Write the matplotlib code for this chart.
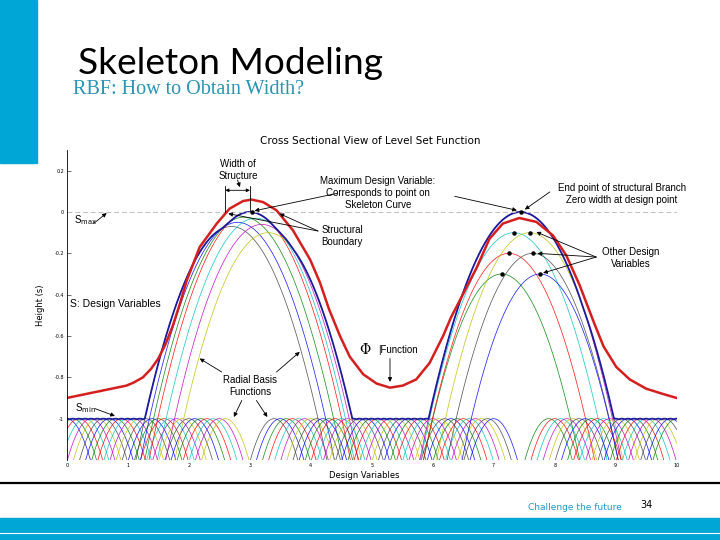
import numpy as np
import matplotlib
matplotlib.use('Agg')
import matplotlib.pyplot as plt
from matplotlib.patches import Rectangle
from matplotlib.lines import Line2D

# RBF centres at S_min (= -1)
smin_left = [0.0, 0.1, 0.2, 0.3, 0.4, 0.5, 0.6, 0.7, 0.8, 0.9, 1.0, 1.1, 1.2, 1.3,
             1.4, 1.5, 1.6, 1.7, 1.8, 1.9, 2.0, 2.1, 2.2, 2.3, 2.4, 2.5, 2.6]
smin_mid = [3.4, 3.5, 3.6, 3.7, 3.8, 3.9, 4.0, 4.1, 4.2, 4.3, 4.4, 4.5, 4.6, 4.7,
            4.8, 4.9, 5.0, 5.1, 5.2, 5.3, 5.4, 5.5, 5.6, 5.7, 5.8, 5.9, 6.0, 6.1,
            6.2, 6.3, 6.4, 6.5, 6.6, 6.7, 6.8, 6.9, 7.0]
smin_right = [7.9, 8.0, 8.1, 8.2, 8.3, 8.4, 8.5, 8.6, 8.7, 8.8, 8.9, 9.0, 9.1,
              9.2, 9.3, 9.4, 9.5, 9.6, 9.7, 9.8, 9.9, 10.0]
s_min = -1.0

# raised design variables around the two skeleton points
left_c = [2.7, 2.8, 2.9, 3.0, 3.1, 3.2, 3.3]
left_s = [-0.07, -0.05, -0.025, 0.0, -0.03, -0.06, -0.1]
right_c = [7.13, 7.25, 7.33, 7.44, 7.59, 7.64, 7.76]
right_s = [-0.3, -0.2, -0.1, 0.0, -0.1, -0.2, -0.3]

# level set function (Phi)
phi_x = [0.0, 0.49, 0.98, 1.1, 1.25, 1.38, 1.5, 1.62, 1.74, 1.86, 1.97, 2.18,
         2.46, 2.67, 2.89, 3.03, 3.22, 3.44, 3.71, 3.99, 4.15, 4.3, 4.48, 4.64,
         4.86, 5.08, 5.3, 5.51, 5.73, 5.95, 6.17, 6.3, 6.44, 6.72, 6.93, 7.15,
         7.42, 7.7, 7.97, 8.19, 8.41, 8.52, 8.65, 8.8, 9.01, 9.23, 9.5, 9.77, 10.0]
phi_y = [-0.9, -0.87, -0.84, -0.825, -0.8, -0.76, -0.71, -0.64, -0.55, -0.44,
         -0.33, -0.17, -0.056, 0.016, 0.053, 0.06, 0.048, 0.008, -0.089, -0.23,
         -0.34, -0.47, -0.6, -0.7, -0.785, -0.83, -0.85, -0.84, -0.81, -0.73,
         -0.6, -0.51, -0.43, -0.27, -0.13, -0.056, -0.029, -0.048, -0.113, -0.21,
         -0.355, -0.44, -0.54, -0.65, -0.75, -0.81, -0.855, -0.88, -0.9]

yticks = [-1, -0.8, -0.6, -0.4, -0.2, 0, 0.2]
ytick_labels = ['-1', '-0.8', '-0.6', '-0.4', '-0.2', '0', '0.2']
xticks = [0, 1, 2, 3, 4, 5, 6, 7, 8, 9, 10]


def rbf(x, c, s):
    # parabolic basis function, narrower for lower design variables
    return s - 0.66 * (x - c) ** 2 / (s + 1.5)


cyan = '#00A6D6'
line_colors = ['#0000ff', '#008000', '#ff0000', '#00bfbf', '#bf00bf', '#bfbf00', '#404040']

fig = plt.figure(figsize=(7.2, 5.4), dpi=100)

# slide decoration
fig.patches.append(Rectangle((0, 1 - 163 / 540), 37 / 720, 163 / 540,
                             transform=fig.transFigure, color=cyan, zorder=0))
fig.patches.append(Rectangle((0, 0), 1, 22 / 540, transform=fig.transFigure,
                             color=cyan, zorder=0))
fig.lines.append(Line2D([0, 1], [7.5 / 540, 7.5 / 540], transform=fig.transFigure,
                        color='white', lw=0.8))
fig.lines.append(Line2D([0, 1], [1 - 483 / 540, 1 - 483 / 540], transform=fig.transFigure,
                        color='black', lw=1.6))
fig.text(78 / 720, 1 - 63 / 540, 'Skeleton Modeling', fontsize=26.7, family='Lato',
         va='center', ha='left')
fig.text(73 / 720, 1 - 90 / 540, 'RBF: How to Obtain Width?', fontsize=14.5,
         family='Liberation Serif', color='#2a93b3', va='center', ha='left')
fig.text(575 / 720, 1 - 508 / 540, 'Challenge the future', fontsize=6.5,
         color='#1a9cc4', va='center', ha='center')
fig.text(646 / 720, 1 - 505 / 540, '34', fontsize=7, va='center', ha='center')

ax = fig.add_axes([66.7 / 720, 1 - 460 / 540, 610 / 720, 310 / 540])
ax.set_xlim(0, 10)
ax.set_ylim(-1.2, 0.3)

x = np.linspace(0, 10, 1201)
centres = smin_left + smin_mid + smin_right + left_c + right_c
heights = [s_min] * (len(smin_left) + len(smin_mid) + len(smin_right)) + left_s + right_s
pairs = sorted(zip(centres, heights))
curves = []
for i, (c, s) in enumerate(pairs):
    y = rbf(x, c, s)
    curves.append(y)
    ax.plot(x, y, color=line_colors[i % 7], lw=0.55, alpha=0.85)

ax.plot(x, np.max(curves, axis=0), color='#1c1c9c', lw=1.3)
ax.plot([0, 10], [0, 0], color='#c0c0c0', lw=0.7, dashes=(5, 3))
ax.plot(phi_x, phi_y, color='#d41f1f', lw=1.8, solid_joinstyle='round')

dots_x = [3.03] + right_c
dots_y = [0.0] + right_s
ax.plot(dots_x, dots_y, 'o', color='black', ms=2.2, zorder=5)

ax.spines['top'].set_visible(False)
ax.spines['right'].set_visible(False)
ax.spines['bottom'].set_visible(False)
ax.spines['left'].set_linewidth(0.6)
ax.set_yticks(yticks)
ax.set_yticklabels(ytick_labels)
ax.set_xticks(xticks)
ax.tick_params(direction='in', labelsize=3.5, length=3, width=0.4, pad=2)
ax.tick_params(axis='x', length=0)
ax.set_ylabel('Height (s)', fontsize=6)
ax.yaxis.set_label_coords(-0.035, 0.5)
ax.set_xlabel('Design Variables', fontsize=6)
ax.xaxis.set_label_coords(0.488, -0.035)

ax.text(4.97, 0.342, 'Cross Sectional View of Level Set Function', fontsize=7.5,
        ha='center', va='center', clip_on=False)

txt = dict(fontsize=7, family='Liberation Sans', linespacing=1.25)
arr = dict(arrowstyle='-|>', color='black', lw=0.6, mutation_scale=6, shrinkA=0, shrinkB=0)

# width of structure
ax.text(2.81, 0.204, 'Width of\nStructure', ha='center', va='center', **txt)
ax.annotate('', xy=(2.6, 0.105), xytext=(3.003, 0.105),
            arrowprops=dict(arrowstyle='<|-|>', color='black', lw=0.6,
                            mutation_scale=5, shrinkA=0, shrinkB=0))
ax.plot([2.6, 2.6], [0.125, 0.0], color='black', lw=0.6)
ax.plot([3.003, 3.003], [0.125, 0.01], color='black', lw=0.6)
ax.annotate('', xy=(2.84, 0.12), xytext=(2.8, 0.155), arrowprops=arr)

# maximum design variable
ax.text(5.1, 0.09, 'Maximum Design Variable:\nCorresponds to point on\nSkeleton Curve',
        ha='center', va='center', **txt)
ax.annotate('', xy=(3.08, 0.006), xytext=(4.43, 0.09), arrowprops=arr)
ax.annotate('', xy=(7.38, 0.008), xytext=(6.36, 0.076), arrowprops=arr)

# end point
ax.text(9.1, 0.086, 'End point of structural Branch\nZero width at design point',
        ha='center', va='center', **txt)
ax.annotate('', xy=(7.51, 0.012), xytext=(7.92, 0.097), arrowprops=arr)

# structural boundary
ax.text(4.18, -0.114, 'Structural\nBoundary', ha='left', va='center', **txt)
ax.annotate('', xy=(2.65, -0.008), xytext=(4.12, -0.092), arrowprops=arr)
ax.annotate('', xy=(3.49, -0.008), xytext=(4.12, -0.092), arrowprops=arr)

# S max / S min / S
ax.text(0.12, -0.04, r'S$_{\rm max}$', ha='left', va='center', **txt)
ax.annotate('', xy=(0.655, -0.005), xytext=(0.44, -0.056), arrowprops=arr)
ax.text(0.13, -0.951, r'S$_{\rm min}$', ha='left', va='center', **txt)
ax.annotate('', xy=(0.79, -0.987), xytext=(0.46, -0.951), arrowprops=arr)
ax.text(0.055, -0.447, 'S: Design Variables', ha='left', va='center', fontsize=7.5,
        family='Liberation Sans')

# radial basis functions
ax.text(3.005, -0.843, 'Radial Basis\nFunctions', ha='center', va='center', **txt)
ax.annotate('', xy=(2.18, -0.709), xytext=(2.54, -0.774), arrowprops=arr)
ax.annotate('', xy=(3.82, -0.677), xytext=(3.44, -0.774), arrowprops=arr)
ax.annotate('', xy=(2.74, -0.992), xytext=(2.87, -0.912), arrowprops=arr)
ax.annotate('', xy=(3.29, -0.992), xytext=(3.11, -0.912), arrowprops=arr)

# phi function
ax.text(4.89, -0.669, '\u03a6', ha='center', va='center', fontsize=10,
        family='DejaVu Serif')
ax.text(5.1, -0.669, '|Function', ha='left', va='center', **txt)
ax.annotate('', xy=(5.3, -0.822), xytext=(5.3, -0.709), arrowprops=arr)

# other design variables
ax.text(9.25, -0.223, 'Other Design\nVariables', ha='center', va='center', **txt)
for hx, hy in [(7.7, -0.097), (7.72, -0.2), (7.81, -0.295)]:
    ax.annotate('', xy=(hx, hy), xytext=(8.68, -0.218), arrowprops=arr)

fig.savefig('out.png', dpi=100)
